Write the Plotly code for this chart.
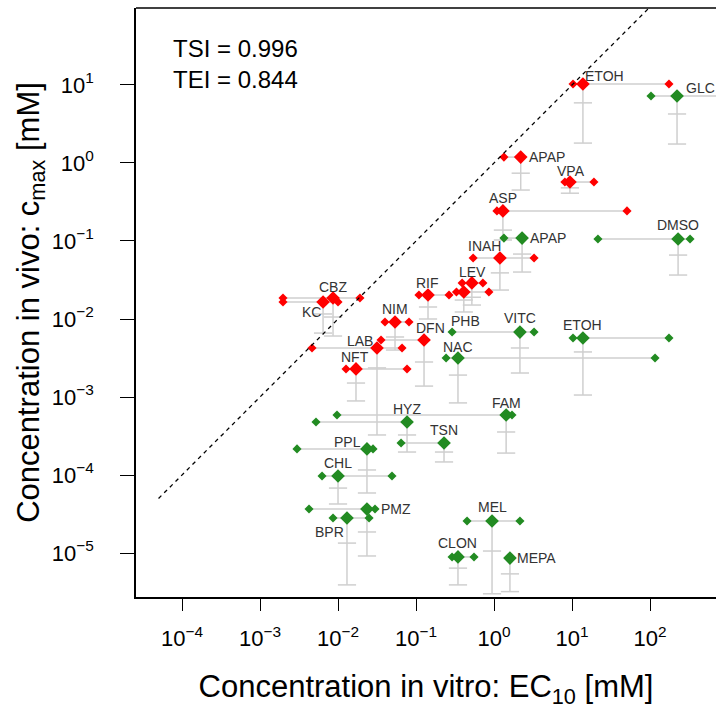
import math
import plotly.graph_objects as go

# ---------------- data ----------------
red_names = ["ETOH", "APAP", "VPA", "ASP", "INAH", "LEV", "", "RIF", "CBZ", "KC", "NIM", "DFN", "LAB", "NFT"]
red_x     = [13.8, 2.2, 9.4, 1.3, 1.19, 0.52, 0.41, 0.1425, 0.00863, 0.00643, 0.0538, 0.1267, 0.0316, 0.017]
red_xmin  = [10.3, 1.34, 8.1, 1.09, 0.54, 0.39, 0.33, 0.109, 0.00197, 0.00197, 0.040, 0.0356, 0.00464, 0.01267]
red_xmax  = [175, 2.2, 19.1, 50.7, 3.26, 0.72, 0.86, 0.265, 0.0191, 0.0100, 0.0813, 0.1267, 0.0662, 0.0767]
red_y     = [10.3, 1.19, 0.57, 0.243, 0.0605, 0.029, 0.0222, 0.0203, 0.0186, 0.0165, 0.00916, 0.00538, 0.00425, 0.00229]
red_ymid  = [5.9, 0.74, 0.48, 0.138, 0.039, 0.019, 0.0175, 0.01425, 0.0106, 0.0116, 0.00588, 0.00281, 0.00236, 0.00151]
red_ylow  = [1.8, 0.45, 0.41, 0.103, 0.0235, 0.0151, 0.0123, 0.0100, 0.00605, 0.0066, 0.0040, 0.00138, 0.000326, 0.00089]

green_names = ["GLC", "APAP", "DMSO", "VITC", "ETOH", "NAC", "FAM", "HYZ", "TSN", "PPL", "CHL", "PMZ", "BPR", "MEL", "CLON", "MEPA"]
green_x     = [222, 2.29, 229, 2.15, 13.8, 0.345, 1.43, 0.0767, 0.2286, 0.0235, 0.0100, 0.0235, 0.01303, 0.943, 0.345, 1.60]
green_xmin  = [103, 1.34, 21.5, 0.29, 10.3, 0.243, 0.0097, 0.00522, 0.0643, 0.00298, 0.00624, 0.00425, 0.00863, 0.451, 0.29, 1.60]
green_xmax  = [1500, 2.29, 326, 3.26, 175, 116, 1.70, 0.0767, 0.2286, 0.0281, 0.0492, 0.0298, 0.0250, 2.15, 0.554, 1.60]
green_y     = [7.22, 0.109, 0.106, 0.0068, 0.0057, 0.00316, 0.000588, 0.000478, 0.000257, 0.000216, 0.000097, 0.0000366, 0.0000281, 0.0000257, 0.0000089, 0.0000086]
green_ymid  = [4.25, 0.068, 0.066, 0.00425, 0.00378, 0.00191, 0.000356, 0.000326, 0.000197, 0.000116, 0.000068, 0.0000186, 0.0000134, 0.0000106, 0.0000064, 0.0000054]
green_ylow  = [1.75, 0.040, 0.0366, 0.00203, 0.00106, 0.00084, 0.000191, 0.000197, 0.000147, 0.0000588, 0.0000425, 0.00000916, 0.0000039, 0.0000030, 0.0000039, 0.0000032]

extra_label = "PHB"
extra_label_x = 0.29
extra_label_y = 0.0068

identity_ends = [5e-5, 300]

tick_vals_x = [1e-4, 1e-3, 1e-2, 1e-1, 1, 10, 100]
tick_text_x = ["10<sup>\u22124</sup>", "10<sup>\u22123</sup>", "10<sup>\u22122</sup>", "10<sup>\u22121</sup>",
               "10<sup>0</sup>", "10<sup>1</sup>", "10<sup>2</sup>"]
tick_vals_y = [1e-5, 1e-4, 1e-3, 1e-2, 1e-1, 1, 10]
tick_text_y = ["10<sup>\u22125</sup>", "10<sup>\u22124</sup>", "10<sup>\u22123</sup>", "10<sup>\u22122</sup>",
               "10<sup>\u22121</sup>", "10<sup>0</sup>", "10<sup>1</sup>"]

stats_text = "TSI = 0.996<br>TEI = 0.844"

# ---------------- styles ----------------
RED = "#FF0000"
GREEN = "#228B22"
GRAY = "#CFCFCF"
FONT = "Liberation Sans, Arial, sans-serif"
LABEL_COLOR = "#333333"

# label offsets (pixels) of the label centre from its point
red_lab_dx = [22, 26, 1, 0, -15, 1, 0, -1, 0, -12, 0, 6, -17, -1]
red_lab_dy = [8, 0, 11, 13, 12, 11, 0, 12, 11, -10, 13, 12, 7, 12]
green_lab_dx = [23, 26, 0, 0, 0, 0, 0, 0, 0, -19, 0, 29, -17, 0, 0, 27]
green_lab_dy = [8, 0, 14, 14, 13, 11, 12, 13, 13, 7, 13, 0, -14, 14, 14, 0]
extra_lab_dx, extra_lab_dy = 13, 11

fig = go.Figure()

def add_bars(x, xmin, xmax, y, ymid, ylow):
    hx, hy = [], []
    for a, b, yy in zip(xmin, xmax, y):
        hx += [a, b, None]
        hy += [yy, yy, None]
    fig.add_trace(go.Scatter(x=hx, y=hy, mode="lines", line=dict(color=GRAY, width=1.5),
                             hoverinfo="skip", showlegend=False))
    vx, vy = [], []
    for xx, yy, yl in zip(x, y, ylow):
        vx += [xx, xx, None]
        vy += [yy, yl, None]
    fig.add_trace(go.Scatter(x=vx, y=vy, mode="lines", line=dict(color=GRAY, width=1.5),
                             hoverinfo="skip", showlegend=False))
    fig.add_trace(go.Scatter(x=list(x) + list(x), y=list(ymid) + list(ylow), mode="markers",
                             marker=dict(symbol="line-ew", size=13, line=dict(color=GRAY, width=1.5)),
                             hoverinfo="skip", showlegend=False))

def add_points(names, x, xmin, xmax, y, color):
    fig.add_trace(go.Scatter(x=list(xmin) + list(xmax), y=list(y) + list(y), mode="markers",
                             marker=dict(symbol="diamond", size=7, color=color, line=dict(width=0)),
                             hoverinfo="skip", showlegend=False))
    fig.add_trace(go.Scatter(x=x, y=y, mode="markers", text=names,
                             marker=dict(symbol="diamond", size=10.5, color=color, line=dict(width=0)),
                             showlegend=False))

def add_label(text, x, y, dx, dy):
    if not text:
        return
    fig.add_annotation(text=text, x=math.log10(x), y=math.log10(y), xref="x", yref="y",
                       xanchor="center", yanchor="middle", xshift=dx, yshift=dy, showarrow=False,
                       font=dict(family=FONT, size=14, color=LABEL_COLOR))

add_bars(red_x, red_xmin, red_xmax, red_y, red_ymid, red_ylow)
add_bars(green_x, green_xmin, green_xmax, green_y, green_ymid, green_ylow)
add_points(green_names, green_x, green_xmin, green_xmax, green_y, GREEN)
add_points(red_names, red_x, red_xmin, red_xmax, red_y, RED)

for i, n in enumerate(red_names):
    add_label(n, red_x[i], red_y[i], red_lab_dx[i], red_lab_dy[i])
for i, n in enumerate(green_names):
    add_label(n, green_x[i], green_y[i], green_lab_dx[i], green_lab_dy[i])
add_label(extra_label, extra_label_x, extra_label_y, extra_lab_dx, extra_lab_dy)

# identity line
fig.add_trace(go.Scatter(x=identity_ends, y=identity_ends, mode="lines",
                         line=dict(color="black", width=1.3, dash="4px,4px"),
                         hoverinfo="skip", showlegend=False))

fig.add_annotation(text=stats_text, xref="paper", yref="paper", x=0.060, y=0.957,
                   xanchor="left", yanchor="top", align="left", showarrow=False,
                   font=dict(family=FONT, size=24, color="black"))

# top border
fig.add_shape(type="line", xref="paper", yref="paper", x0=0, x1=1, y0=1, y1=1,
              line=dict(color="black", width=1.5))

fig.update_xaxes(type="log", range=[-4.590, 2.846], tickvals=tick_vals_x, ticktext=tick_text_x,
                 ticks="outside", ticklen=12, tickwidth=1.3, tickcolor="black",
                 showline=True, linecolor="black", linewidth=1.5, showgrid=False, zeroline=False,
                 tickfont=dict(family=FONT, size=22, color="black"), ticklabelstandoff=9,
                 title=dict(text="Concentration in vitro: EC<sub>10</sub> [mM]",
                            font=dict(family=FONT, size=31, color="black"), standoff=26))
fig.update_yaxes(type="log", range=[-5.564, 1.987], tickvals=tick_vals_y, ticktext=tick_text_y,
                 ticks="outside", ticklen=14, tickwidth=1.3, tickcolor="black",
                 showline=True, linecolor="black", linewidth=1.5, showgrid=False, zeroline=False,
                 tickfont=dict(family=FONT, size=22, color="black"), ticklabelstandoff=22,
                 title=dict(text="Concentration in vivo: c<sub>max</sub> [mM]",
                            font=dict(family=FONT, size=31, color="black"), standoff=3))

fig.update_layout(width=716, height=709, margin=dict(l=136, r=0, t=8, b=112),
                  plot_bgcolor="white", paper_bgcolor="white", showlegend=False)

fig.write_html("out.html")
